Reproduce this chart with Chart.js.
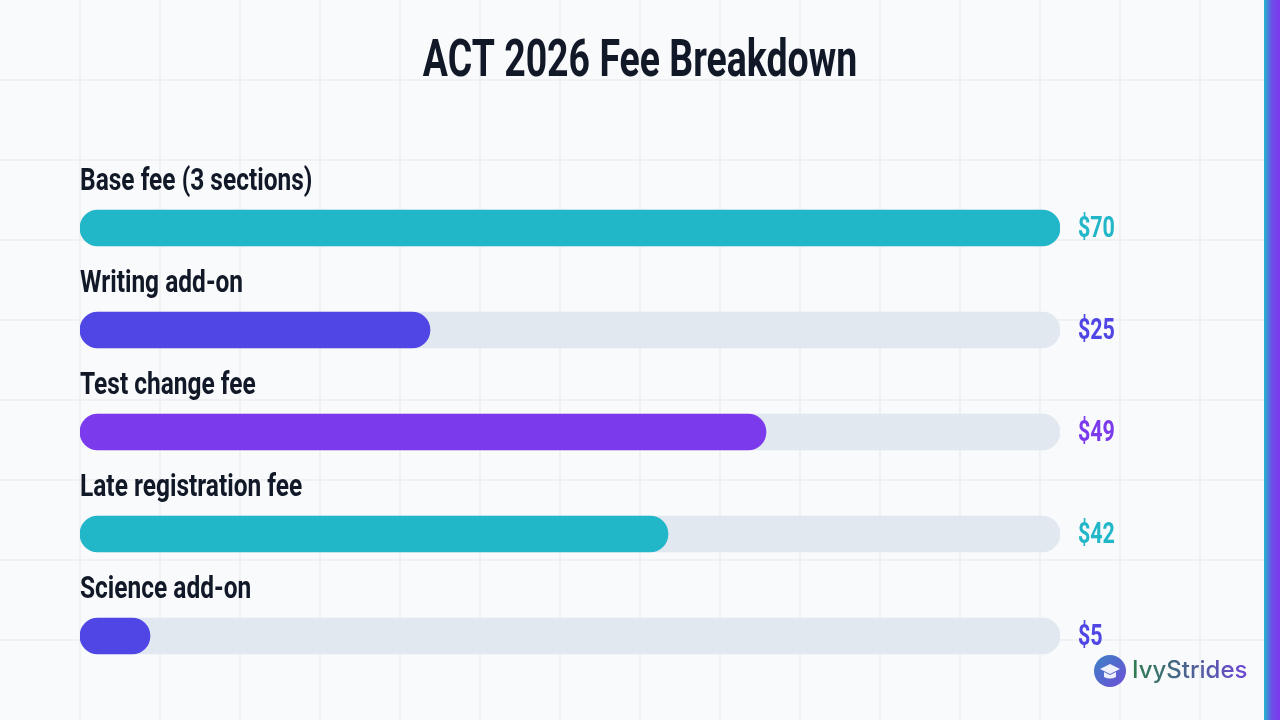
<!DOCTYPE html>
<html>
<head>
<meta charset="utf-8">
<script src="https://cdn.jsdelivr.net/npm/chart.js@4"></script>
<style>
  html, body { margin: 0; padding: 0; background: #f9fafb; }
  #wrap { position: relative; width: 1280px; height: 720px; }
</style>
</head>
<body>
<div id="wrap"><canvas id="feeChart" width="1280" height="720"></canvas></div>
<script>
const categories = ['Base fee (3 sections)', 'Writing add-on', 'Test change fee', 'Late registration fee', 'Science add-on'];
const fees = [70, 25, 49, 42, 5];
const scaleMax = 70;
const trackValues = categories.map(function () { return scaleMax; });
const barColors = ['#21b6c8', '#4f46e5', '#7c3aed', '#21b6c8', '#4f46e5'];

function drawNarrow(ctx, text, x, y, font, color, align, sx) {
    ctx.save();
    ctx.translate(x, y);
    ctx.scale(sx, 1);
    ctx.font = font;
    ctx.fillStyle = color;
    ctx.textAlign = align;
    ctx.textBaseline = 'middle';
    ctx.fillText(text, 0, 0);
    ctx.restore();
}

const backdrop = {
    id: 'backdrop',
    beforeDraw(chart) {
        const ctx = chart.ctx;
        const w = chart.width, h = chart.height;
        ctx.save();
        ctx.fillStyle = '#f9fafb';
        ctx.fillRect(0, 0, w, h);
        ctx.strokeStyle = '#f0f1f3';
        ctx.lineWidth = 2;
        for (let x = 80; x < w; x += 80) {
            ctx.beginPath(); ctx.moveTo(x, 0); ctx.lineTo(x, h); ctx.stroke();
        }
        for (let y = 80; y < h; y += 80) {
            ctx.beginPath(); ctx.moveTo(0, y); ctx.lineTo(w, y); ctx.stroke();
        }
        // accent strip on the right edge
        const g = ctx.createLinearGradient(w - 16, 0, w, 0);
        g.addColorStop(0, '#22b8cf');
        g.addColorStop(0.5, '#6d4ee8');
        g.addColorStop(1, '#7c3aed');
        ctx.fillStyle = g;
        ctx.fillRect(w - 16, 0, 16, h);
        ctx.restore();
    }
};

const labelsPlugin = {
    id: 'labelsPlugin',
    afterDatasetsDraw(chart) {
        const ctx = chart.ctx;
        const meta = chart.getDatasetMeta(0);
        const area = chart.chartArea;

        drawNarrow(ctx, 'ACT 2026 Fee Breakdown', chart.width / 2, 63, 'bold 52px Roboto', '#111827', 'center', 0.72);

        meta.data.forEach(function (bar, i) {
            drawNarrow(ctx, categories[i], area.left, bar.y - 46, 'bold 31px Roboto', '#111827', 'left', 0.79);
            drawNarrow(ctx, '$' + fees[i], area.right + 18, bar.y + 2, 'bold 29px Roboto', barColors[i], 'left', 0.74);
        });

        // brand mark
        ctx.save();
        const cx = 1110, cy = 671;
        const cg = ctx.createLinearGradient(cx - 16, cy - 16, cx + 16, cy + 16);
        cg.addColorStop(0, '#3b82c4');
        cg.addColorStop(1, '#6d4fd8');
        ctx.fillStyle = cg;
        ctx.beginPath(); ctx.arc(cx, cy, 16, 0, Math.PI * 2); ctx.fill();
        ctx.fillStyle = 'rgba(255,255,255,0.9)';
        ctx.beginPath();
        ctx.moveTo(cx - 10, cy - 2); ctx.lineTo(cx, cy - 7); ctx.lineTo(cx + 10, cy - 2); ctx.lineTo(cx, cy + 3);
        ctx.closePath(); ctx.fill();
        ctx.beginPath();
        ctx.moveTo(cx - 6, cy + 1); ctx.lineTo(cx - 6, cy + 6); ctx.quadraticCurveTo(cx, cy + 9, cx + 6, cy + 6); ctx.lineTo(cx + 6, cy + 1);
        ctx.lineTo(cx, cy + 4); ctx.closePath(); ctx.fill();
        const tg = ctx.createLinearGradient(1132, 0, 1248, 0);
        tg.addColorStop(0, '#2e7d4f');
        tg.addColorStop(1, '#6d46d8');
        ctx.fillStyle = tg;
        ctx.font = '500 24px Inter';
        ctx.textAlign = 'left';
        ctx.textBaseline = 'middle';
        ctx.fillText('IvyStrides', 1132, 671);
        ctx.restore();
    }
};

const ctx = document.getElementById('feeChart').getContext('2d');

const feeChart = new Chart(ctx, {
    type: 'bar',
    data: {
        labels: categories,
        datasets: [{
            label: 'Fee',
            data: fees,
            backgroundColor: barColors,
            borderRadius: 18,
            borderSkipped: false,
            barThickness: 36,
            grouped: false,
            order: 0
        }, {
            label: 'Track',
            data: trackValues,
            backgroundColor: '#e2e8f0',
            borderRadius: 18,
            borderSkipped: false,
            barThickness: 36,
            grouped: false,
            order: 1
        }]
    },
    options: {
        indexAxis: 'y',
        responsive: false,
        animation: false,
        events: [],
        layout: {
            padding: { left: 80, right: 220, top: 177, bottom: 33 }
        },
        plugins: {
            legend: { display: false },
            title: { display: false },
            tooltip: { enabled: false }
        },
        scales: {
            x: { display: false, min: 0, max: scaleMax },
            y: { display: false }
        }
    },
    plugins: [backdrop, labelsPlugin]
});
</script>
</body>
</html>
